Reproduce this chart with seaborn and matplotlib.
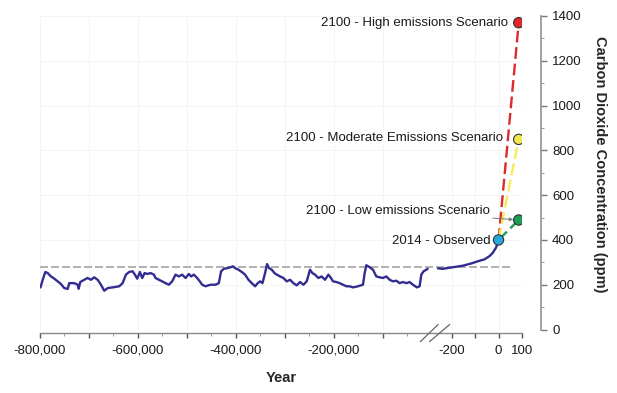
import numpy as np
import pandas as pd
import matplotlib
matplotlib.use("Agg")
import matplotlib.pyplot as plt
import seaborn as sns

# ---------------- data ----------------
# Ice-core record (years relative to 2014, ppm)
ice_year = [-799000, -793300, -789200, -784300, -777600, -770800, -763900, -757100,
            -750400, -743500, -740200, -730000, -723100, -721000, -717800, -709600,
            -702700, -695900, -689200, -682200, -675500, -668800, -661800, -651600,
            -638200, -631200, -624500, -617800, -610800, -606100,
            -601400, -595900, -591200, -586300, -581000, -574100, -567300, -563900,
            -557100, -550400, -543500, -536700, -530000, -523100, -516300, -509600,
            -502700, -495900, -491200, -485700, -479000, -473500, -468800, -461800,
            -451600, -441400, -434700, -430000, -424500, -417800, -410800, -405500,
            -401400, -394500, -387800, -381000, -374100, -367400, -360600, -355100,
            -350400, -345500, -340200, -336100, -332000, -326500, -321000, -316300,
            -309600, -302700, -295900, -289200, -282300, -275500, -268800, -261800,
            -255100, -248400, -243500, -238200, -231200, -224500, -217800, -210800,
            -205500,
            -201400, -194500, -187800, -181000, -174100, -167300, -160600, -150400,
            -140200, -136700, -133300, -126500, -119800, -112900, -106100, -99400,
            -92500, -85700, -78900, -72000, -65300, -58600, -51600, -44900,
            -38200, -30000, -24500, -21000, -16300, -10800, -8000]
ice_ppm = [188, 230, 257, 252, 237, 227, 215, 203,
           185, 181, 207, 207, 200, 182, 212, 222,
           230, 222, 233, 222, 200, 173, 185, 188,
           193, 207, 245, 257, 260, 245,
           227, 257, 230, 252, 248, 252, 245, 230,
           222, 215, 207, 200, 215, 245, 237, 245,
           230, 248, 237, 245, 230, 215, 200, 193,
           200, 200, 207, 260, 271, 274, 278, 282,
           274, 267, 257, 245, 222, 207, 193, 207,
           215, 207, 252, 292, 274, 267, 252, 245,
           237, 230, 215, 222, 207, 197, 212, 200,
           215, 267, 252, 245, 230, 237, 222, 245,
           230,
           215, 212, 207, 200, 193, 193, 188, 193,
           200, 252, 287, 278, 267, 237, 233, 230,
           237, 222, 215, 218, 207, 212, 207, 212,
           200, 188, 193, 245, 260, 267, 271]

# Instrumental / recent record
mod_year = [-258, -237, -194, -152, -116, -81, -60, -38, -24, -10, 0]
mod_ppm = [273, 271, 278, 285, 295, 307, 313, 328, 343, 367, 400]

# Observed point and 2100 scenarios
obs_label = "2014 - Observed"
obs_year = 0
obs_ppm = 400
scen_year = 86
scen_names = ["2100 - High emissions Scenario",
              "2100 - Moderate Emissions Scenario",
              "2100 - Low emissions Scenario"]
scen_ppm = [1370, 849, 489]
scen_colors = ["#e0252c", "#f3e84c", "#1e9b57"]
obs_color = "#27a6e0"

preindustrial_ppm = 280

# ticks
x_major = [-800000, -700000, -600000, -500000, -400000, -300000, -200000, -100000,
           -200, -100, 0, 100]
x_major_labels = ["-800,000", "", "-600,000", "", "-400,000", "", "-200,000", "",
                  "-200", "", "0", "100"]
x_minor = [-750000, -650000, -550000, -450000, -350000, -250000, -150000, -50000]
y_major = [0, 200, 400, 600, 800, 1000, 1200, 1400]
y_minor = [100, 300, 500, 700, 900, 1100, 1300]

# ---------------- broken x scale ----------------
B1, B2 = -3000.0, -260.0
K_ICE = 98.0 / 200000.0
K_MOD = 0.235
U1 = 40 + (B1 + 800000) * K_ICE
U2 = 499 + B2 * K_MOD


def fwd(x):
    x = np.asarray(x, dtype=float)
    ice = 40 + (x + 800000) * K_ICE
    mid = U1 + (x - B1) * (U2 - U1) / (B2 - B1)
    mod = 499 + x * K_MOD
    return np.where(x <= B1, ice, np.where(x < B2, mid, mod))


def inv(u):
    u = np.asarray(u, dtype=float)
    ice = (u - 40) / K_ICE - 800000
    mid = B1 + (u - U1) * (B2 - B1) / (U2 - U1)
    mod = (u - 499) / K_MOD
    return np.where(u <= U1, ice, np.where(u < U2, mid, mod))


# ---------------- figure ----------------
sns.set_style("white")
plt.rcParams["font.family"] = ["Liberation Sans", "DejaVu Sans"]

W, H = 617, 393
fig = plt.figure(figsize=(W / 100, H / 100), dpi=100)
ax = fig.add_axes([40 / W, 1 - 329.5 / H, (522 - 40) / W, (329.5 - 16) / H])
ax.set_xscale("function", functions=(fwd, inv))
ax.set_xlim(-800000, 100)
ax.set_ylim(0, 1400)

line_col = "#322d8f"
ice_df = pd.DataFrame({"year": ice_year, "ppm": ice_ppm})
mod_df = pd.DataFrame({"year": mod_year, "ppm": mod_ppm})

# pre-industrial reference line
ax.plot([-800000, 60], [preindustrial_ppm, preindustrial_ppm], color="#a3a3a3",
        lw=1.2, dashes=(4.8, 1.8), zorder=1)

sns.lineplot(data=ice_df, x="year", y="ppm", ax=ax, color=line_col, lw=1.7,
             sort=False, estimator=None, zorder=3)
sns.lineplot(data=mod_df, x="year", y="ppm", ax=ax, color=line_col, lw=1.7,
             sort=False, estimator=None, zorder=3)

# scenario dashed lines
line_cols = ["#dc2a2e", "#f6eb58", "#1e9b57"]
for p, c in zip(scen_ppm, line_cols):
    ax.plot([obs_year, scen_year], [obs_ppm, p], color=c, lw=1.7,
            dashes=(5.0, 2.0), zorder=2)

# markers
pts = pd.DataFrame({"year": [scen_year] * 3 + [obs_year],
                    "ppm": scen_ppm + [obs_ppm],
                    "name": scen_names + [obs_label]})
sns.scatterplot(data=pts, x="year", y="ppm", hue="name",
                palette=scen_colors + [obs_color], s=55, edgecolor="#333333",
                linewidth=0.8, ax=ax, legend=False, zorder=5)

# annotations
tk = dict(fontsize=9.5, color="#1a1a1a", ha="right", va="center")
ax.annotate(scen_names[0], xy=(scen_year, scen_ppm[0]), xytext=(-7.5, 0),
            textcoords="offset points", **tk)
ax.annotate(scen_names[1], xy=(scen_year, scen_ppm[1]), xytext=(-11.5, 1),
            textcoords="offset points", **tk)
ax.annotate(scen_names[2], xy=(scen_year, scen_ppm[2]), xytext=(-21, 6.5),
            textcoords="offset points",
            arrowprops=dict(arrowstyle="-|>", color="#777777", lw=0.7,
                            mutation_scale=5, shrinkA=0, shrinkB=4), **tk)
ax.annotate(obs_label, xy=(obs_year, obs_ppm), xytext=(-6, -1),
            textcoords="offset points", **tk)

# axes styling
for s in ["top", "left"]:
    ax.spines[s].set_visible(False)
ax.spines["right"].set_position(("outward", 13.7))
ax.spines["right"].set_color("#9a9a9a")
ax.spines["right"].set_linewidth(1.3)
ax.spines["bottom"].set_position(("outward", 2.5))
ax.spines["bottom"].set_color("#888888")
ax.spines["bottom"].set_linewidth(1.0)

ax.yaxis.tick_right()
ax.yaxis.set_label_position("right")
ax.set_yticks(y_major)
ax.set_yticks(y_minor, minor=True)
ax.set_yticklabels([str(v) for v in y_major])
ax.set_xticks(x_major)
ax.set_xticklabels(x_major_labels)
ax.set_xticks(x_minor, minor=True)
ax.tick_params(axis="x", which="both", bottom=True, top=False)
ax.tick_params(axis="x", which="major", direction="out", length=3.5, width=1.0,
               color="#555555", labelsize=9.5, labelcolor="#1a1a1a", pad=5)
ax.tick_params(axis="x", which="minor", direction="out", length=2.5, width=0.6,
               color="#888888")
ax.tick_params(axis="y", which="both", right=True, left=False)
ax.tick_params(axis="y", which="major", direction="out", length=4, width=1.0,
               color="#777777", labelsize=9.5, labelcolor="#1a1a1a", pad=4)
ax.tick_params(axis="y", which="minor", direction="out", length=2.5, width=0.7,
               color="#999999")

ax.grid(True, which="major", color="#f3f3f3", lw=0.6)
ax.set_xlabel("Year", fontsize=10.5, fontweight="bold", labelpad=10)
ax.set_ylabel("Carbon Dioxide Concentration (ppm)", fontsize=10.5,
              fontweight="bold", rotation=270)
ax.yaxis.label.set_va("center")
ax.yaxis.label.set_ha("center")
ax.yaxis.set_label_coords((600 - 40) / 482, 1 - (164 - 16) / 313.5)

# axis break marks
for x0, x1 in [(0.789, 0.826), (0.808, 0.850)]:
    ax.plot([x0, x1], [-0.039, 0.016], transform=ax.transAxes, color="#666666",
            lw=0.9, clip_on=False, zorder=6)

fig.savefig("out.png", dpi=100)
